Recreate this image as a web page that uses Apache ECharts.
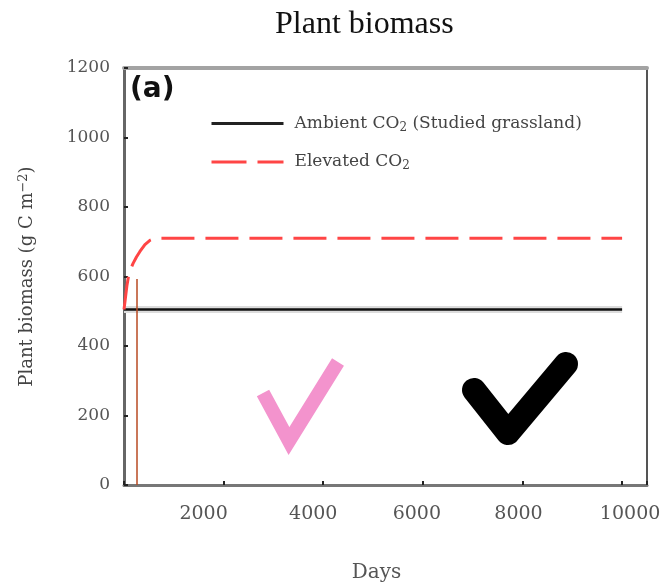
<!DOCTYPE html>
<html>
<head>
<meta charset="utf-8">
<script src="https://cdn.jsdelivr.net/npm/echarts@6/dist/echarts.min.js"></script>
<style>html,body{margin:0;padding:0;background:#fff}#c{width:664px;height:588px}</style>
</head>
<body>
<div id="c"></div>
<script>
const xTicks = [0, 2000, 4000, 6000, 8000, 10000];
const yTicks = [0, 200, 400, 600, 800, 1000, 1200];
const ambientDays = [0, 10000];
const ambientVals = [505, 505];
const elevatedDays = [0, 30, 60, 90, 130, 180, 250, 320, 420, 520, 620, 800, 10000];
const elevatedVals = [505, 540, 575, 600, 620, 637, 656, 672, 692, 704, 710, 710, 710];
const markerDays = [261, 261];
const markerVals = [0, 593];

const pair = (xs, ys) => xs.map((x, i) => [x, ys[i]]);
const serif = 'DejaVu Serif';
const chart = echarts.init(document.getElementById('c'), null, {renderer: 'canvas'});
const subFmt = name => name.replace('CO2', 'CO{sub|2}');
// small horizontal shifts of x tick labels, as in the reference picture
const labelShift = {2000: -20, 4000: -10, 6000: -6, 8000: -4, 10000: 8};
const xRich = {};
Object.keys(labelShift).forEach(k => {
  const s = labelShift[k];
  xRich['l' + k] = {
    fontFamily: serif, fontSize: 19, color: '#555',
    padding: s < 0 ? [0, -2 * s, 0, 0] : [0, 0, 0, 2 * s]
  };
});

chart.setOption({
  animation: false,
  backgroundColor: '#fff',
  title: {
    text: 'Plant biomass', left: 270, top: 4,
    textStyle: {fontFamily: 'Liberation Serif', fontSize: 32, fontWeight: 'normal', color: '#111'}
  },
  grid: {left: 124, right: 17, top: 68, bottom: 101},
  legend: {
    orient: 'vertical', left: 205, top: 110, itemGap: 20, itemWidth: 72, itemHeight: 14,
    data: [
      {name: 'Ambient CO2 (Studied grassland)', itemStyle: {color: 'transparent', borderColor: 'transparent'},
       lineStyle: {color: '#222', width: 3, type: 'solid'}},
      {name: 'Elevated CO2', itemStyle: {color: 'transparent', borderColor: 'transparent'},
       lineStyle: {color: '#ff4545', width: 3, type: [35, 11]}}
    ],
    formatter: subFmt,
    textStyle: {
      fontFamily: serif, fontSize: 17, color: '#444', padding: [0, 0, 0, 6],
      rich: {sub: {fontFamily: serif, fontSize: 12, color: '#444', verticalAlign: 'bottom', padding: [8, 0, 0, 0]}}
    }
  },
  xAxis: [{
    type: 'value', min: 0, max: 10500, interval: 2000,
    splitLine: {show: false},
    axisLine: {onZero: false, lineStyle: {color: '#777', width: 3}},
    axisTick: {inside: true, length: 4, lineStyle: {color: '#222', width: 2}},
    axisLabel: {
      margin: 20, fontFamily: serif, fontSize: 19, color: '#555', rich: xRich,
      formatter: v => (v > 0 && v % 2000 === 0) ? '{l' + v + '|' + v + '}' : ''
    },
    name: 'Days', nameLocation: 'middle', nameGap: 78,
    nameTextStyle: {fontFamily: serif, fontSize: 20, color: '#555', padding: [0, 18, 0, 0]}
  }, {
    type: 'value', position: 'top', min: 0, max: 10500,
    splitLine: {show: false}, axisTick: {show: false}, axisLabel: {show: false},
    axisLine: {show: true, onZero: false, lineStyle: {color: '#a3a3a3', width: 4}}
  }],
  yAxis: [{
    type: 'value', min: 0, max: 1200, interval: 200,
    splitLine: {show: false},
    axisLine: {show: true, onZero: false, lineStyle: {color: '#666', width: 3}},
    axisTick: {show: true, inside: true, length: 4, lineStyle: {color: '#222', width: 2}},
    axisLabel: {margin: 14, fontFamily: serif, fontSize: 17, color: '#555', formatter: v => String(v)},
    name: 'Plant biomass (g C m{sup|\u22122})', nameLocation: 'middle', nameGap: 86, nameRotate: 90,
    nameTextStyle: {
      fontFamily: serif, fontSize: 18, color: '#444',
      rich: {sup: {fontFamily: serif, fontSize: 13, color: '#444', verticalAlign: 'top', padding: [0, 0, 8, 0]}}
    }
  }, {
    type: 'value', position: 'right', min: 0, max: 1200,
    splitLine: {show: false}, axisTick: {show: false}, axisLabel: {show: false},
    axisLine: {show: true, onZero: false, lineStyle: {color: '#555', width: 2}}
  }],
  series: [
    {
      name: 'shadow', type: 'line', data: pair(ambientDays, ambientVals), symbol: 'none', silent: true,
      lineStyle: {color: '#dcdcdc', width: 7}, z: 1
    },
    {
      name: 'Ambient CO2 (Studied grassland)', type: 'line', data: pair(ambientDays, ambientVals),
      symbol: 'none', lineStyle: {color: '#111', width: 2.5}, itemStyle: {color: '#111'}, z: 3
    },
    {
      name: 'Elevated CO2', type: 'line', data: pair(elevatedDays, elevatedVals),
      symbol: 'none', lineStyle: {color: '#ff4545', width: 3, type: [33, 11]}, itemStyle: {color: '#ff4545'}, z: 4
    },
    {
      name: 'marker', type: 'line', data: pair(markerDays, markerVals), symbol: 'none', silent: true,
      lineStyle: {color: '#b84a22', width: 1.5}, z: 5
    }
  ],
  graphic: [
    {type: 'text', left: 130, top: 76, z: 10,
     style: {text: '(a)', fontFamily: 'DejaVu Sans', fontWeight: 'bold', fontSize: 28, fill: '#111'}},
    {type: 'polyline', z: 10,
     shape: {points: [[263, 393], [289, 441], [338, 362]]},
     style: {stroke: '#f393cd', lineWidth: 14, fill: null, lineCap: 'butt', lineJoin: 'miter'}},
    {type: 'polyline', z: 10,
     shape: {points: [[474, 390], [508, 433], [566, 364]]},
     style: {stroke: '#000', lineWidth: 24, fill: null, lineCap: 'round', lineJoin: 'round'}}
  ]
});
</script>
</body>
</html>
